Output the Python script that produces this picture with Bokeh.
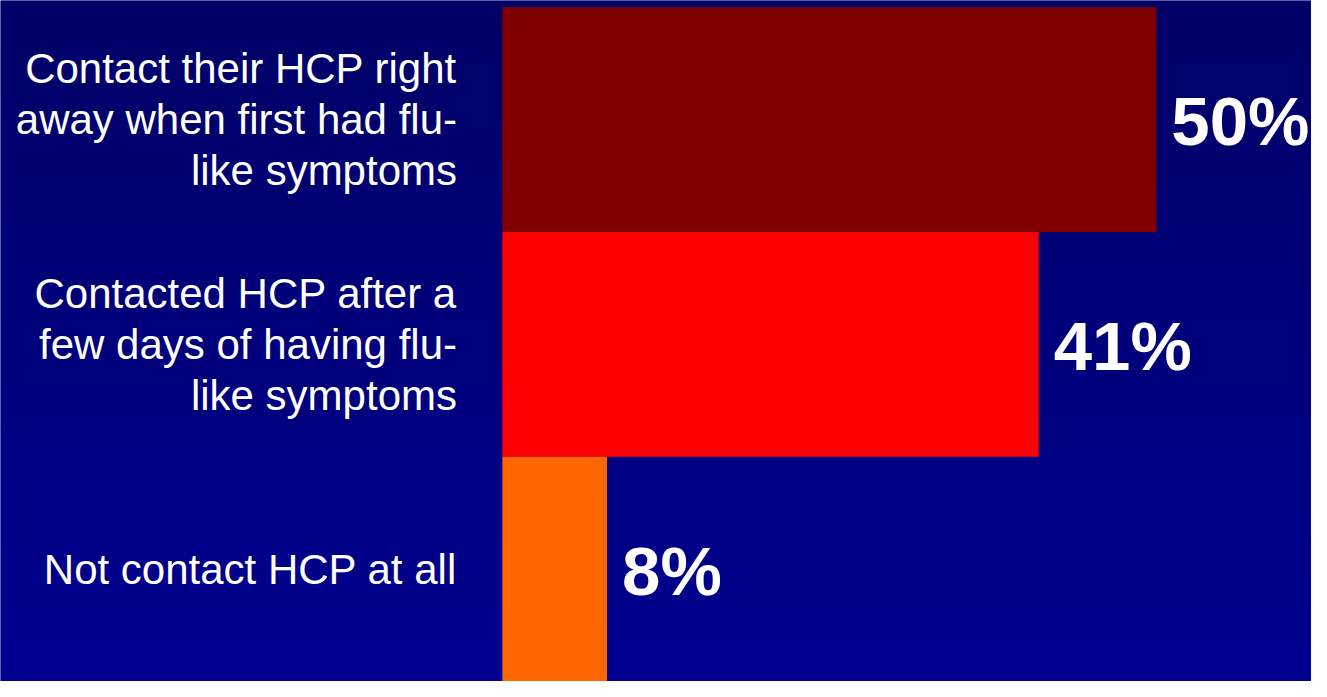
import numpy as np
from bokeh.plotting import figure
from bokeh.models import Range1d, ColumnDataSource
from bokeh.core.properties import value
from bokeh.embed import file_html
from bokeh.resources import INLINE

# ---- data ----
categories = [
    "Contact their HCP right\naway when first had flu-\nlike symptoms",
    "Contacted HCP after a\nfew days of having flu-\nlike symptoms",
    "Not contact HCP at all",
]
values = [50, 41, 8]
colors = ["#800000", "#FF0000", "#FF6600"]

n = len(categories)
ypos = [n - 1 - i for i in range(n)]

X0, X1 = -38.37, 61.86
Y0, Y1 = -0.5, n - 0.5 + 0.03

p = figure(width=1311, height=681, x_range=Range1d(X0, X1), y_range=Range1d(Y0, Y1),
           output_backend="svg", toolbar_location=None, min_border=0,
           x_axis_location=None, y_axis_location=None)
p.grid.visible = False
p.outline_line_color = None
p.background_fill_color = "#000080"
p.border_fill_color = "#000080"

# vertical gradient background
H = 200
img = np.empty((H, 1), dtype=np.uint32)
view = img.view(dtype=np.uint8).reshape((H, 1, 4))
for r in range(H):
    t = r / (H - 1)  # 0 at bottom, 1 at top
    b = int(round(0x90 + (0x66 - 0x90) * t))
    view[r, 0, :] = [0, 0, b, 255]
p.image_rgba(image=[img], x=X0, y=Y0, dw=X1 - X0, dh=Y1 - Y0)

src = ColumnDataSource(dict(y=ypos, v=values, c=colors, cat=categories,
                            lab=[f"{v}%" for v in values]))
p.hbar(y="y", left=0, right="v", height=1.0, fill_color="c", line_color=None, source=src)

p.text(x=-3.47, y="y", text="cat", source=src, text_align="right", text_baseline="middle",
       text_color="white", text_font=value("Liberation Sans"), text_font_size="42px",
       text_line_height=1.08)

p.text(x="v", y="y", text="lab", source=src, x_offset=15, y_offset=2, text_align="left",
       text_baseline="middle", text_color="white", text_font=value("Liberation Sans"),
       text_font_style="bold", text_font_size="69px")

open("out.html", "w").write(file_html(p, INLINE))
